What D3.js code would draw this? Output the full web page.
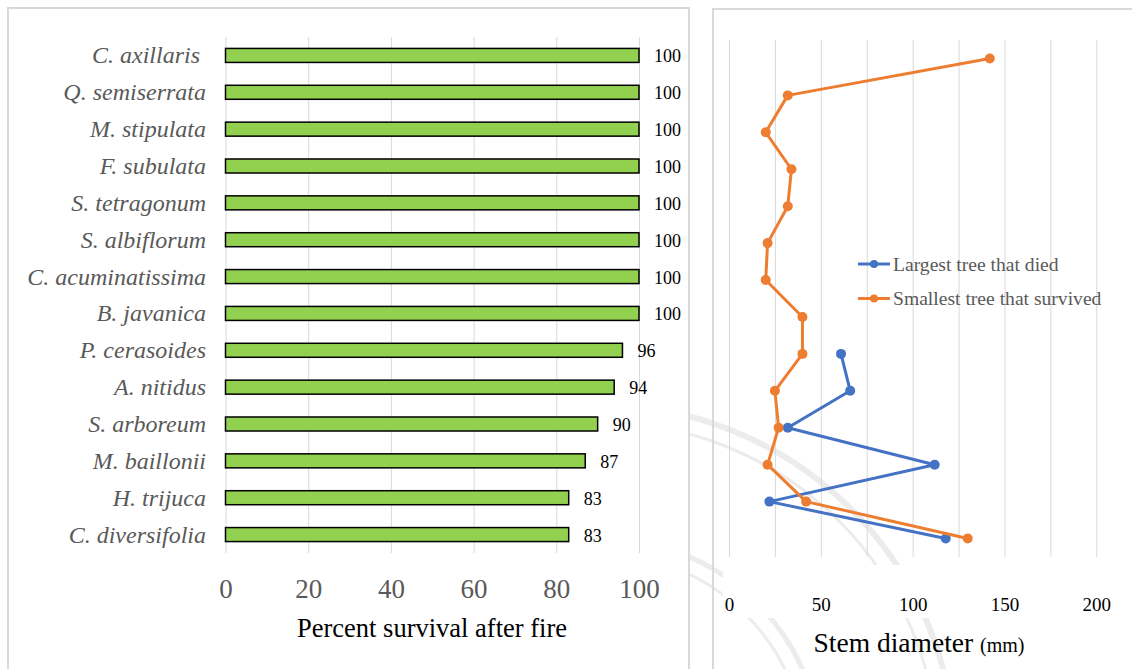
<!DOCTYPE html>
<html>
<head>
<meta charset="utf-8">
<script src="https://cdn.jsdelivr.net/npm/d3@7"></script>
<style>
  html, body { margin: 0; padding: 0; background: #ffffff; }
  svg { display: block; }
  svg text { font-family: "Liberation Serif", "DejaVu Serif", serif !important; }
</style>
</head>
<body>
<svg id="chart" width="1132" height="669"></svg>
<script>
// Species, top to bottom
const species = [
  "C. axillaris ", "Q. semiserrata", "M. stipulata", "F. subulata",
  "S. tetragonum", "S. albiflorum", "C. acuminatissima", "B. javanica",
  "P. cerasoides", "A. nitidus", "S. arboreum", "M. baillonii",
  "H. trijuca", "C. diversifolia"
];
// Percent of trees surviving the fire
const survival = [100, 100, 100, 100, 100, 100, 100, 100, 96, 94, 90, 87, 83, 83];
// Stem diameter (mm); null where no tree died
const largestDied = [null, null, null, null, null, null, null, null, 61, 66, 32, 112, 22, 118];
const smallestSurvived = [142, 32, 20, 34, 32, 21, 20, 40, 40, 25, 27, 21, 42, 130];

const survivalTicks = [0, 20, 40, 60, 80, 100];
const diameterTicks = [0, 50, 100, 150, 200];
const diameterGrid = [0, 25, 50, 75, 100, 125, 150, 175, 200];

const seriesNames = ["Largest tree that died", "Smallest tree that survived"];
const seriesColors = ["#4472c4", "#ed7d31"];

const FONT = "Liberation Serif";
const svg = d3.select("#chart");
const grey = "#595959";
const gridColor = "#d9d9d9";

// ---- faint seal in the page background ----
const seal = svg.append("g").attr("fill", "none").attr("stroke", "#ececec");
[[355, 6], [338, 3], [222, 5], [206, 3]].forEach(([r, w]) => {
  seal.append("circle").attr("cx", 600).attr("cy", 760).attr("r", r).attr("stroke-width", w);
});

// ---- left panel: percent survival ----
svg.append("rect")
  .attr("x", 8).attr("y", 8).attr("width", 681).attr("height", 700)
  .attr("fill", "#ffffff").attr("stroke", gridColor).attr("stroke-width", 2);

const xS = d3.scaleLinear().domain([0, 100]).range([225.5, 639]);
const yS = d3.scaleBand().domain(species).range([37, 553])
  .paddingInner(0.62).paddingOuter(0.31);

const left = svg.append("g");

// vertical gridlines
left.append("g")
  .attr("transform", "translate(0,553)")
  .call(d3.axisBottom(xS).tickValues(survivalTicks).tickSize(-(553 - 37)).tickFormat(""))
  .call(g => g.select(".domain").remove())
  .call(g => g.selectAll("line").attr("stroke", gridColor).attr("stroke-width", 1));

// tick labels
left.append("g")
  .attr("transform", "translate(0,553)")
  .call(d3.axisBottom(xS).tickValues(survivalTicks).tickSize(0).tickPadding(26))
  .call(g => g.select(".domain").remove())
  .call(g => g.attr("font-family", FONT))
  .call(g => g.selectAll("text")
    .attr("fill", grey).attr("font-size", 27));

// bars
left.append("g").selectAll("rect")
  .data(species)
  .join("rect")
  .attr("x", xS(0))
  .attr("y", d => yS(d))
  .attr("width", (d, i) => xS(survival[i]) - xS(0))
  .attr("height", yS.bandwidth())
  .attr("fill", "#92d050")
  .attr("stroke", "#000000")
  .attr("stroke-width", 1.5);

// category labels
left.append("g").selectAll("text")
  .data(species)
  .join("text")
  .attr("x", 206)
  .attr("y", d => yS(d) + yS.bandwidth() / 2)
  .attr("text-anchor", "end")
  .attr("dominant-baseline", "central")
  .attr("font-family", FONT)
  .attr("font-size", 24)
  .attr("font-style", "italic")
  .attr("fill", grey)
  .style("white-space", "pre")
  .text(d => d);

// value labels
left.append("g").selectAll("text")
  .data(species)
  .join("text")
  .attr("x", (d, i) => xS(survival[i]) + 15)
  .attr("y", d => yS(d) + yS.bandwidth() / 2 + 1)
  .attr("dominant-baseline", "central")
  .attr("font-family", FONT)
  .attr("font-size", 18)
  .attr("fill", "#000000")
  .text((d, i) => survival[i]);

left.append("text")
  .attr("x", 432).attr("y", 637)
  .attr("text-anchor", "middle")
  .attr("font-family", FONT)
  .attr("font-size", 26.5)
  .attr("fill", "#000000")
  .text("Percent survival after fire");

// ---- right panel: stem diameter ----
svg.append("rect")
  .attr("x", 713).attr("y", 9).attr("width", 500).attr("height", 700)
  .attr("fill", "none").attr("stroke", gridColor).attr("stroke-width", 2);

const dS = d3.scaleLinear().domain([0, 200]).range([729, 1096.3]);
const pS = d3.scalePoint().domain(species).range([40, 557]).padding(0.5);

const right = svg.append("g");

right.append("g")
  .attr("transform", "translate(0,557)")
  .call(d3.axisBottom(dS).tickValues(diameterGrid).tickSize(-(557 - 40)).tickFormat(""))
  .call(g => g.select(".domain").remove())
  .call(g => g.selectAll("line").attr("stroke", gridColor).attr("stroke-width", 1));

// label band behind the tick values
right.append("rect")
  .attr("x", 723).attr("y", 565).attr("width", 420).attr("height", 53)
  .attr("fill", "#ffffff");

right.append("g")
  .attr("transform", "translate(0,557)")
  .call(d3.axisBottom(dS).tickValues(diameterTicks).tickSize(0).tickPadding(41))
  .call(g => g.select(".domain").remove())
  .call(g => g.attr("font-family", FONT))
  .call(g => g.selectAll("text")
    .attr("fill", "#000000").attr("font-size", 19));

const seriesData = [largestDied, smallestSurvived];
const line = d3.line()
  .defined(d => d.v != null)
  .x(d => dS(d.v))
  .y(d => pS(d.s));

seriesData.forEach((vals, k) => {
  const pts = species.map((s, i) => ({ s, v: vals[i] }));
  right.append("path")
    .datum(pts)
    .attr("fill", "none")
    .attr("stroke", seriesColors[k])
    .attr("stroke-width", 3)
    .attr("stroke-linejoin", "round")
    .attr("d", line);
  right.append("g").selectAll("circle")
    .data(pts.filter(d => d.v != null))
    .join("circle")
    .attr("cx", d => dS(d.v))
    .attr("cy", d => pS(d.s))
    .attr("r", 5)
    .attr("fill", seriesColors[k]);
});

// legend
const legend = right.append("g");
seriesNames.forEach((name, k) => {
  const y = 264 + k * 34.5;
  legend.append("line")
    .attr("x1", 858).attr("x2", 890).attr("y1", y).attr("y2", y)
    .attr("stroke", seriesColors[k]).attr("stroke-width", 3);
  legend.append("circle")
    .attr("cx", 874).attr("cy", y).attr("r", 4)
    .attr("fill", seriesColors[k]);
  legend.append("text")
    .attr("x", 893).attr("y", y)
    .attr("dominant-baseline", "central")
    .attr("font-family", FONT)
    .attr("font-size", 19.6)
    .attr("fill", grey)
    .text(name);
});

const title = right.append("text")
  .attr("x", 919).attr("y", 652)
  .attr("text-anchor", "middle")
  .attr("font-family", FONT)
  .attr("fill", "#000000")
  .attr("font-size", 27.5);
title.append("tspan").text("Stem diameter ");
title.append("tspan").attr("font-size", 20).text("(mm)");
</script>
</body>
</html>
